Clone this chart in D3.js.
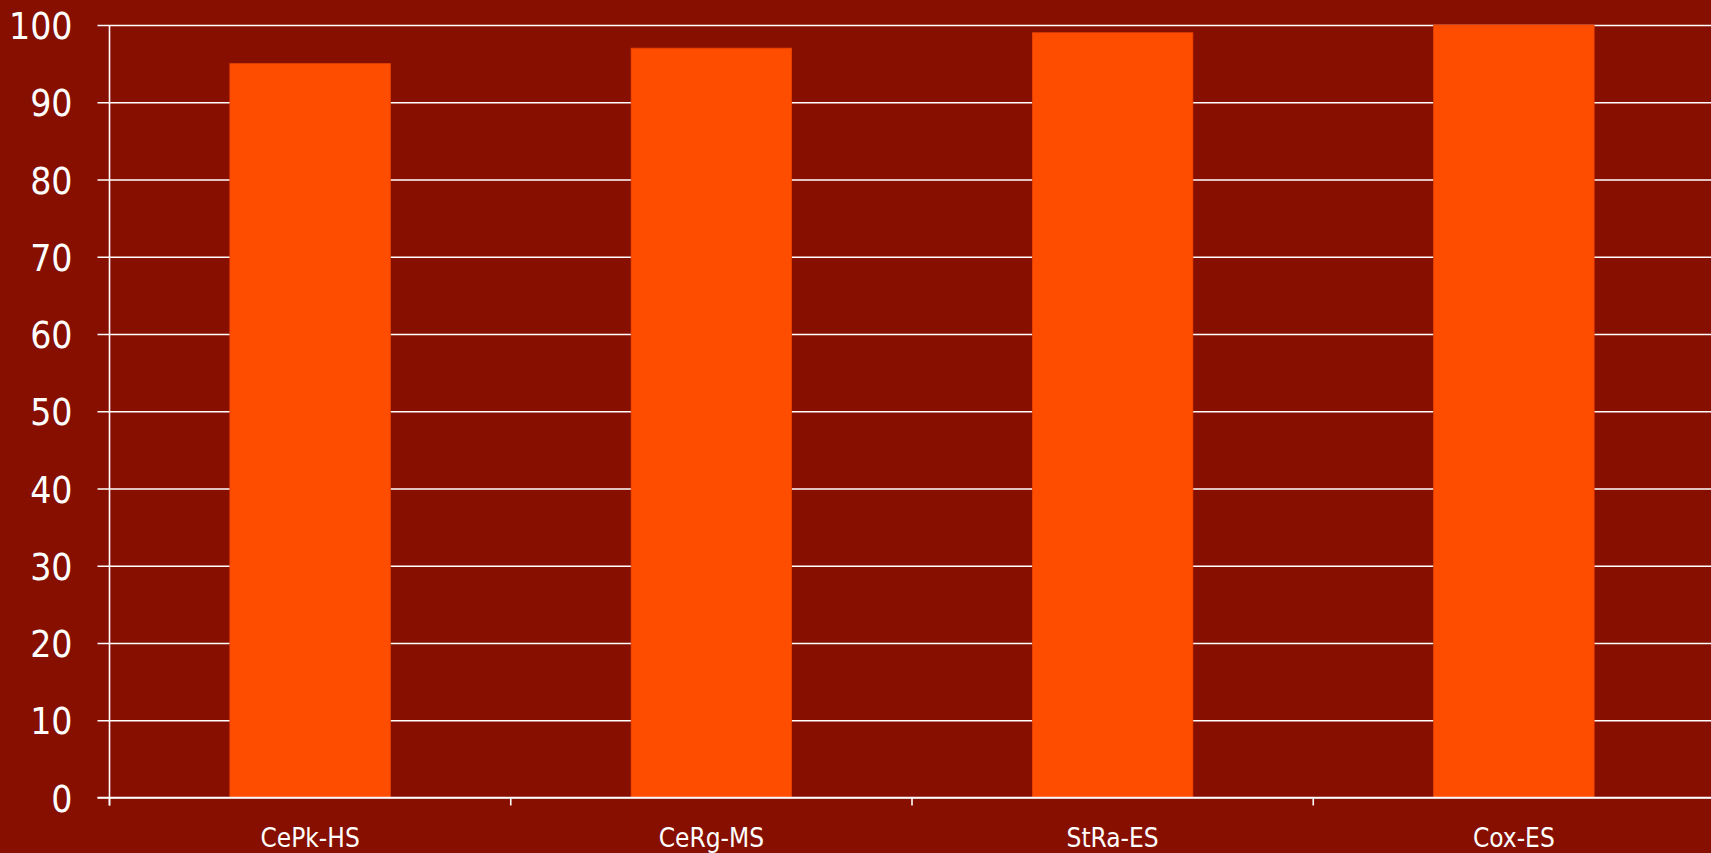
<!DOCTYPE html>
<html>
<head>
<meta charset="utf-8">
<script src="https://cdn.jsdelivr.net/npm/d3@7"></script>
<style>
  html, body { margin: 0; padding: 0; background: #860f00; overflow: hidden; }
  svg { display: block; }
</style>
</head>
<body>
<svg id="chart" width="1711" height="853"></svg>
<script>
// Scores per method
const categories = ["CePk-HS", "CeRg-MS", "StRa-ES", "Cox-ES"];
const values = [95, 97, 99, 100];
const yTicks = [0, 10, 20, 30, 40, 50, 60, 70, 80, 90, 100];

const W = 1711, H = 853;
const plotLeft = 109.5, plotRight = 1714.5, plotTop = 25, plotBottom = 797.5;
const fontFamily = "'DejaVu Sans Condensed', 'DejaVu Sans', sans-serif";

const svg = d3.select("#chart");
svg.append("rect").attr("width", W).attr("height", H).attr("fill", "#860f00");

const x = d3.scaleBand()
  .domain(categories)
  .range([plotLeft, plotRight])
  .paddingInner(0.6)
  .paddingOuter(0.3);

const y = d3.scaleLinear().domain([0, 100]).range([plotBottom, plotTop]);

// Horizontal gridlines with left tick marks
const yAxis = d3.axisLeft(y)
  .tickValues(yTicks)
  .tickSize(-(W - plotLeft))
  .tickPadding(37)
  .tickFormat(d3.format("d"));

const gy = svg.append("g")
  .attr("transform", `translate(${plotLeft},0)`)
  .call(yAxis);
gy.select(".domain").remove();
gy.selectAll(".tick line")
  .attr("x1", -12)
  .attr("stroke", "#ffffff")
  .attr("stroke-width", 1.6);
gy.selectAll(".tick text")
  .attr("fill", "#ffffff")
  .attr("font-family", fontFamily)
  .attr("font-size", 37)
  .attr("dy", "0.37em");

// Bars
svg.append("g")
  .selectAll("rect")
  .data(values)
  .join("rect")
  .attr("x", (d, i) => x(categories[i]))
  .attr("y", d => y(d))
  .attr("width", x.bandwidth())
  .attr("height", d => y(0) - y(d))
  .attr("fill", "#ff4d00")
  .attr("stroke", "#e84400")
  .attr("stroke-width", 0.8);

// Vertical axis line
svg.append("line")
  .attr("x1", plotLeft).attr("x2", plotLeft)
  .attr("y1", plotTop).attr("y2", plotBottom + 8)
  .attr("stroke", "#ffffff").attr("stroke-width", 1.6);

// Horizontal axis line
svg.append("line")
  .attr("x1", plotLeft - 12).attr("x2", W)
  .attr("y1", plotBottom).attr("y2", plotBottom)
  .attr("stroke", "#ffffff").attr("stroke-width", 1.6);

// Category boundary ticks
const step = x.step();
const boundaries = d3.range(categories.length + 1).map(i => plotLeft + i * step);
svg.append("g")
  .selectAll("line")
  .data(boundaries)
  .join("line")
  .attr("x1", d => d).attr("x2", d => d)
  .attr("y1", plotBottom).attr("y2", plotBottom + 8)
  .attr("stroke", "#ffffff").attr("stroke-width", 1.6);

// Category labels
svg.append("g")
  .selectAll("text")
  .data(categories)
  .join("text")
  .attr("x", d => x(d) + x.bandwidth() / 2)
  .attr("y", 847)
  .attr("text-anchor", "middle")
  .attr("fill", "#ffffff")
  .attr("font-family", fontFamily)
  .attr("font-size", 26)
  .text(d => d);
</script>
</body>
</html>
